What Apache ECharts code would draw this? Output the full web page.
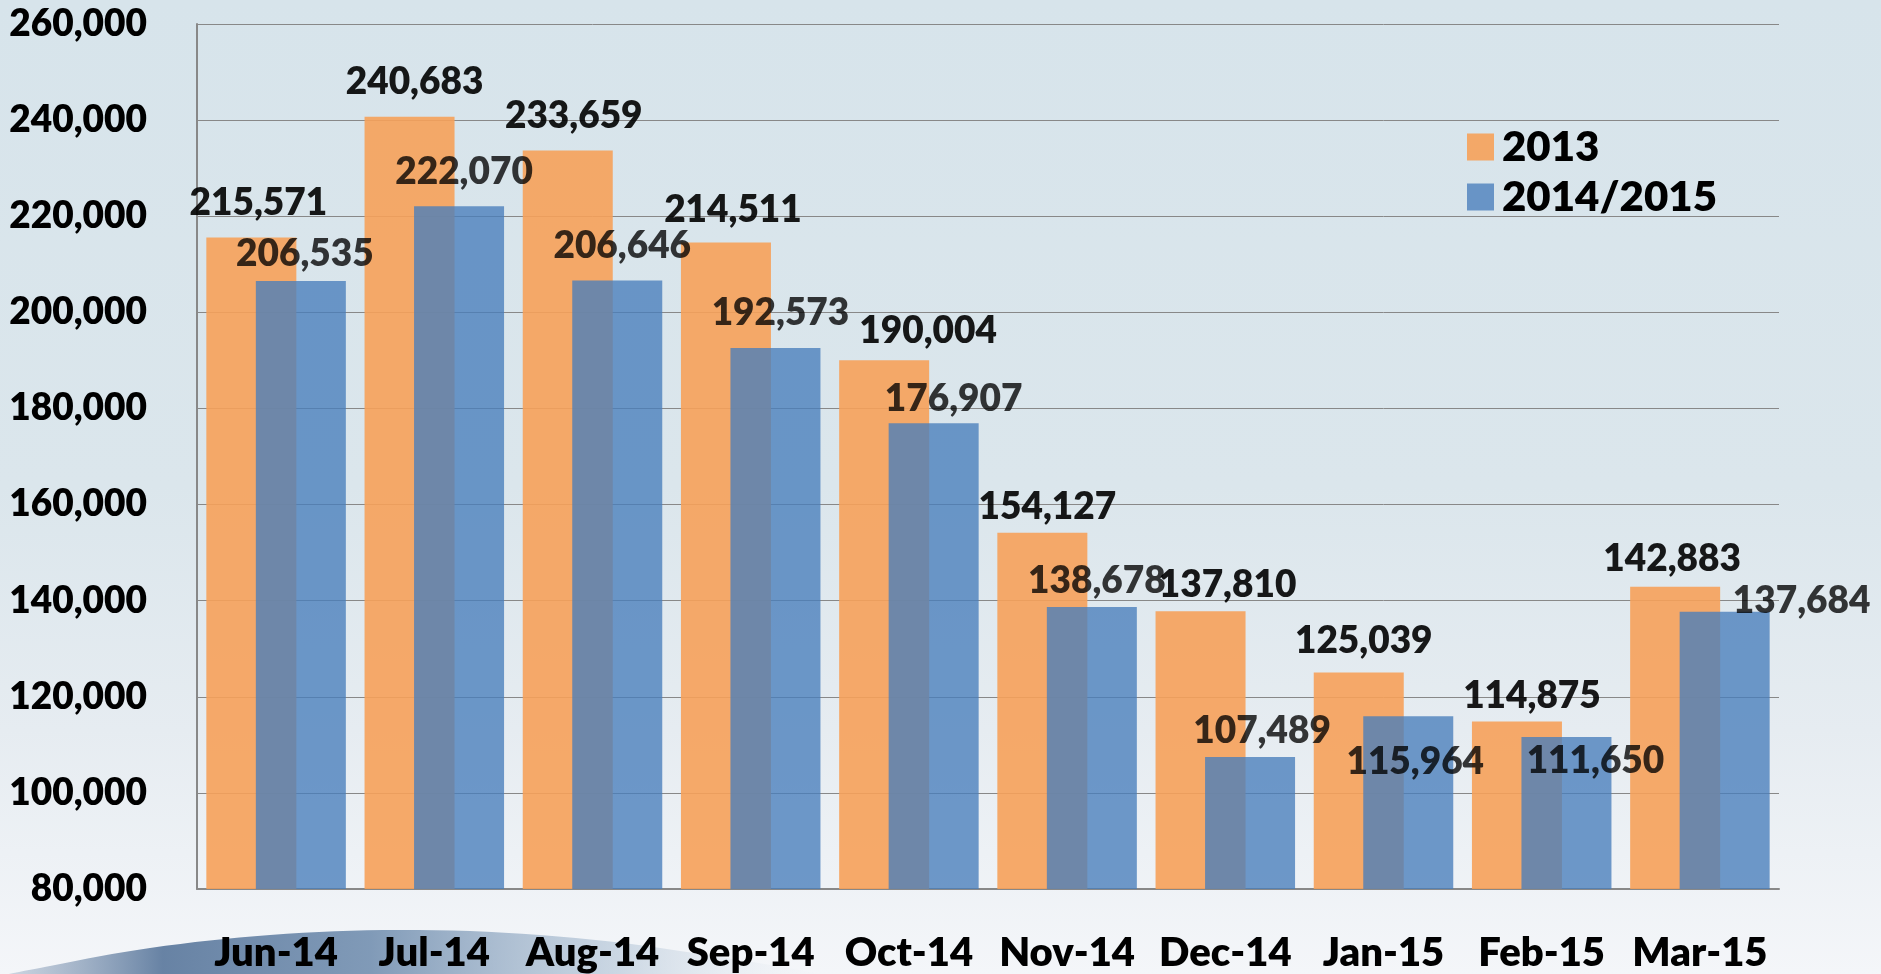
<!DOCTYPE html>
<html>
<head>
<meta charset="utf-8">
<script src="https://cdn.jsdelivr.net/npm/echarts@6/dist/echarts.min.js"></script>
<style>
  html, body { margin: 0; padding: 0; }
  #chart { width: 1881px; height: 974px; }
</style>
</head>
<body>
<div id="chart"></div>
<script>
// data
const months = ['Jun-14', 'Jul-14', 'Aug-14', 'Sep-14', 'Oct-14', 'Nov-14', 'Dec-14', 'Jan-15', 'Feb-15', 'Mar-15']
const values2013 = [215571, 240683, 233659, 214511, 190004, 154127, 137810, 125039, 114875, 142883]
const values2014 = [206535, 222070, 206646, 192573, 176907, 138678, 107489, 115964, 111650, 137684]
const seriesNames = ['2013', '2014/2015']
const yTicks = { min: 80000, max: 260000, interval: 20000 }

// label nudges (px) so the labels sit where the original placed them
const nudge2013 = [[7, 0], [5, 0], [6, 0], [7, 2], [44, 5], [5, 9], [27, 8], [5, 3], [15, 9], [-3, 7]]
const nudge2014 = [[4, 8], [5, 0], [5, 0], [5, 0], [20, 10], [5, 9], [12, 9], [7, 80], [29, 59], [77, 24]]

const font = 'Lato, "Open Sans", sans-serif'
const heavy = 800

function withLabels(values, nudge) {
  return values.map((v, i) => ({ value: v, label: { offset: nudge[i] } }))
}

const chart = echarts.init(document.getElementById('chart'))

chart.setOption({
  backgroundColor: {
    type: 'linear', x: 0, y: 0, x2: 0, y2: 1,
    colorStops: [
      { offset: 0, color: '#d7e4eb' },
      { offset: 0.5, color: '#dbe6ec' },
      { offset: 0.75, color: '#e6ecf1' },
      { offset: 1, color: '#f4f6f9' }
    ]
  },
  textStyle: { fontFamily: font },
  // the blurry swoosh at the bottom left of the slide
  graphic: [{
    type: 'polygon',
    z: -1,
    shape: {
      smooth: 0.35,
      points: [[0, 978], [50, 966], [150, 948], [270, 935], [400, 930], [540, 935], [680, 951], [820, 978]]
    },
    style: {
      fill: {
        type: 'linear', x: 0, y: 0, x2: 1, y2: 0,
        colorStops: [
          { offset: 0, color: 'rgba(130,152,180,0.3)' },
          { offset: 0.2, color: 'rgba(88,118,155,0.9)' },
          { offset: 0.45, color: 'rgba(108,138,172,0.85)' },
          { offset: 0.75, color: 'rgba(170,190,210,0.55)' },
          { offset: 1, color: 'rgba(225,232,240,0)' }
        ]
      }
    }
  }],
  grid: { left: 197, right: 102, top: 24, bottom: 85, containLabel: false, outerBoundsMode: 'none' },
  legend: {
    orient: 'vertical',
    left: 1462,
    top: 121,
    itemWidth: 27,
    itemHeight: 27,
    itemGap: 8,
    icon: 'rect',
    textStyle: { fontSize: 42, fontWeight: heavy, color: '#000', fontFamily: font, lineHeight: 42, padding: [0, 0, 0, 3] },
    data: seriesNames
  },
  xAxis: {
    type: 'category',
    data: months,
    axisLine: { lineStyle: { color: '#888', width: 2 } },
    axisTick: { show: false },
    axisLabel: { margin: 44, fontSize: 40, fontWeight: heavy, color: '#000', fontFamily: font, interval: 0 }
  },
  yAxis: {
    type: 'value',
    min: yTicks.min,
    max: yTicks.max,
    interval: yTicks.interval,
    axisLine: { show: true, lineStyle: { color: '#888', width: 2 } },
    axisTick: { show: false },
    splitLine: { lineStyle: { color: '#888', width: 1 } },
    axisLabel: {
      margin: 50,
      fontSize: 37,
      fontWeight: heavy,
      color: '#000',
      fontFamily: font,
      formatter: v => v.toLocaleString('en-US')
    }
  },
  series: [
    {
      name: seriesNames[0],
      type: 'bar',
      barWidth: 90,
      barGap: '-45%',
      itemStyle: { color: 'rgb(246,161,90)', opacity: 0.9 },
      label: {
        show: true, position: 'top', distance: 16,
        fontSize: 37, fontWeight: heavy, color: '#000', fontFamily: font, lineHeight: 37,
        formatter: p => p.value.toLocaleString('en-US')
      },
      data: withLabels(values2013, nudge2013)
    },
    {
      name: seriesNames[1],
      type: 'bar',
      barWidth: 90,
      barGap: '-45%',
      itemStyle: { color: 'rgb(72,125,187)', opacity: 0.78 },
      label: {
        show: true, position: 'top', distance: 16,
        fontSize: 37, fontWeight: heavy, color: '#000', fontFamily: font, lineHeight: 37,
        formatter: p => p.value.toLocaleString('en-US')
      },
      data: withLabels(values2014, nudge2014)
    }
  ]
})

window.addEventListener('resize', () => chart.resize())
</script>
</body>
</html>
